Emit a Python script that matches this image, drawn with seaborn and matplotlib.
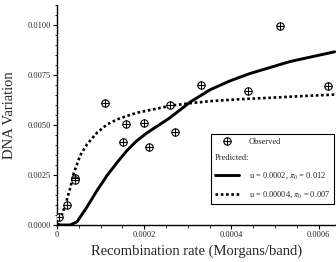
import matplotlib
matplotlib.use("Agg")
import matplotlib.pyplot as plt
from matplotlib import ticker
from matplotlib.lines import Line2D
import pandas as pd
import seaborn as sns

# %% DATA
obs_x = [0.000004, 0.000023, 0.000042, 0.000042, 0.000111, 0.000151, 0.000159,
         0.000200, 0.000210, 0.000260, 0.000270, 0.000330, 0.000439, 0.000511, 0.000622]
obs_y = [0.00041, 0.00102, 0.00237, 0.00224, 0.00610, 0.00416, 0.00503,
         0.00511, 0.00388, 0.00602, 0.00467, 0.00698, 0.00671, 0.00995, 0.00693]

# predicted, u = 0.0002, pi0 = 0.012
solid_x = [0, 0.00002, 0.00003, 0.000046, 0.000069, 0.000092, 0.000115, 0.000138,
           0.00016, 0.000183, 0.000206, 0.000229, 0.000259, 0.000305, 0.000351,
           0.000396, 0.000442, 0.000488, 0.000534, 0.00058, 0.000637]
solid_y = [0, 0, 0, 0.00016, 0.00091, 0.00173, 0.00248, 0.00313,
           0.00371, 0.00421, 0.0046, 0.00493, 0.00536, 0.00614, 0.00676,
           0.0072, 0.00757, 0.00787, 0.00817, 0.00839, 0.00866]

# predicted, u = 0.00004, pi0 = 0.007
dot_x = [0, 0.000004, 0.000019, 0.000031, 0.000038, 0.000053, 0.000069, 0.000092,
         0.000115, 0.000138, 0.00016, 0.000183, 0.000229, 0.000259, 0.000305,
         0.000351, 0.000419, 0.000488, 0.000557, 0.000637]
dot_y = [0, 0.000084, 0.00099, 0.0019, 0.00256, 0.00347, 0.00404, 0.00462,
         0.00503, 0.00528, 0.00545, 0.00561, 0.00582, 0.00596, 0.00609,
         0.00619, 0.00629, 0.00636, 0.00644, 0.00652]

obs = pd.DataFrame({"rate": obs_x, "dna": obs_y})
solid = pd.DataFrame({"rate": solid_x, "dna": solid_y})
dotted = pd.DataFrame({"rate": dot_x, "dna": dot_y})

# %% STYLE
sns.set_style("ticks")
plt.rcParams["font.family"] = ["Liberation Serif", "DejaVu Serif"]
plt.rcParams["mathtext.fontset"] = "stix"

fig = plt.figure(figsize=(3.36, 2.62), dpi=100)
ax = fig.add_axes([57 / 336, 37 / 262, 279 / 336, 220 / 262])

# %% PLOT
sns.lineplot(data=solid, x="rate", y="dna", ax=ax, color="black", lw=2.1,
             sort=False, estimator=None)
sns.lineplot(data=dotted, x="rate", y="dna", ax=ax, color="black", lw=1.9,
             linestyle=(0, (1, 1)), sort=False, estimator=None)
sns.scatterplot(data=obs, x="rate", y="dna", ax=ax, marker="o", s=28,
                facecolor="white", edgecolor="black", linewidth=0.8, zorder=3)
sns.scatterplot(data=obs, x="rate", y="dna", ax=ax, marker="+", s=28,
                color="black", linewidth=0.8, zorder=4)

# %% AXES
ax.set_xlim(0, 0.00064)
ax.set_ylim(0, 0.011)
ax.xaxis.set_major_locator(ticker.MultipleLocator(0.0002))
ax.xaxis.set_minor_locator(ticker.MultipleLocator(0.00005))
ax.yaxis.set_major_locator(ticker.MultipleLocator(0.0025))
ax.yaxis.set_minor_locator(ticker.MultipleLocator(0.0005))
ax.xaxis.set_major_formatter(ticker.FuncFormatter(lambda v, _: "0" if v == 0 else f"{v:.4f}"))
ax.yaxis.set_major_formatter(ticker.FormatStrFormatter("%.4f"))
ax.tick_params(which="major", length=3, width=0.8, labelsize=6, pad=1.5, color="black")
ax.tick_params(which="minor", length=1.8, width=0.6, color="black")
for s in ["top", "right"]:
    ax.spines[s].set_visible(False)
for s in ["left", "bottom"]:
    ax.spines[s].set_linewidth(1.0)
    ax.spines[s].set_color("black")

ax.set_xlabel("Recombination rate (Morgans/band)", fontsize=10.5, labelpad=4)
ax.set_ylabel("DNA Variation", fontsize=10.5, labelpad=8)

# %% LEGEND
h_obs = (Line2D([], [], ls="none", marker="o", ms=5.3, mfc="white", mec="black", mew=0.8),
         Line2D([], [], ls="none", marker="+", ms=5.3, color="black", mew=0.8))
h_blank = Line2D([], [], ls="none")
h_solid = Line2D([], [], color="black", lw=2.1)
h_dot = Line2D([], [], color="black", lw=1.9, ls=(0, (1, 1)))
leg = ax.legend([h_obs, h_blank, h_solid, h_dot],
                ["Observed", "Predicted:", r"u = 0.0002, $\pi_0$ = 0.012",
                 r"u = 0.00004, $\pi_0$ = 0.007"],
                loc="upper left", bbox_to_anchor=(0.552, 0.414), borderaxespad=0,
                fontsize=6, frameon=True, fancybox=False, framealpha=1,
                edgecolor="black", handlelength=2.9, handletextpad=1.1,
                labelspacing=1.0, borderpad=0.5)
leg.get_frame().set_linewidth(0.8)
# pull "Predicted:" to the left edge like a sub-heading
row = leg._legend_handle_box.get_children()[0].get_children()[1]
row.get_children()[0].width = 0
row.sep = 0

fig.savefig("out.png", dpi=100)
